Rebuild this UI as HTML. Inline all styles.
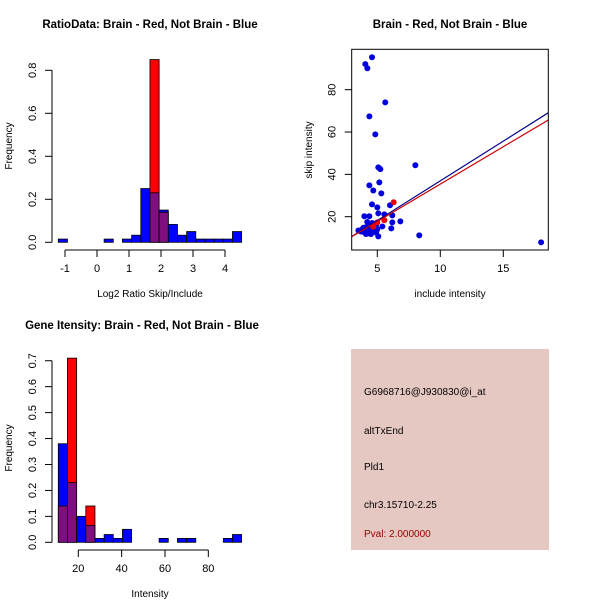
<!DOCTYPE html>
<html><head><meta charset="utf-8"><style>
body{margin:0;background:#fff}
svg{display:block;font-family:"Liberation Sans",sans-serif}
</style></head><body>
<svg id="c" width="600" height="600" xmlns="http://www.w3.org/2000/svg">
<rect x="0" y="0" width="600" height="600" fill="#fff"/>
</svg>
<script>
// Panel 1: ratio histogram
const ratioBinStart = -1.21, ratioBinWidth = 0.2865;
const ratioBlue = [0.015,0,0,0,0,0.015,0,0.015,0.033,0.25,0.23,0.15,0.083,0.033,0.05,0.015,0.015,0.015,0.015,0.05];
const ratioRed  = [0,0,0,0,0,0,0,0,0,0,0.85,0.14,0,0,0,0,0,0,0,0];
const ratioXTicks = [-1,0,1,2,3,4];
const ratioYTicks = [0,0.2,0.4,0.6,0.8];
// Panel 2: scatter
const scatterBlueX = [4.58,4.05,4.21,5.63,4.37,4.84,5.08,5.24,8.02,4.37,5.16,4.68,5.32,4.58,5.0,6.01,5.08,5.56,6.19,3.97,4.37,6.19,6.83,6.11,5.4,8.33,18.0,5.08,3.5,3.8,4.0,4.1,4.2,4.3,4.4,4.5,4.6,4.7,4.8,4.9,4.2,3.9,4.5,4.8,5.0,4.3,3.7,4.6,4.1,4.9];
const scatterBlueY = [95.3,92.1,90.1,74.0,67.4,58.9,43.3,42.5,44.3,34.8,36.2,32.4,31.0,25.8,24.4,25.4,21.6,21.1,20.6,20.2,20.2,17.3,17.8,14.5,15.4,11.2,7.9,10.7,13.5,14,12.5,15,13,16,12,14,17,13,15,12.5,17.5,14.8,11.8,13.5,14,14.5,13,12.8,11.8,16];
const scatterRedX = [6.3,5.56,5.0,4.68];
const scatterRedY = [26.8,18.3,17.3,15.3];
const fitBlue = [-0.55,3.75]; // intercept, slope
const fitRed = [0.1,3.53];
const scatterXTicks = [5,10,15];
const scatterYTicks = [20,40,60,80];
// Panel 3: intensity histogram
const intBinStart = 10.77, intBinWidth = 4.23;
const intBlue = [0.38,0.23,0.1,0.065,0.015,0.03,0.015,0.05,0,0,0,0.015,0,0.015,0.015,0,0,0,0.015,0.03];
const intRed  = [0.14,0.71,0,0.14,0,0,0,0,0,0,0,0,0,0,0,0,0,0,0,0];
const intXTicks = [20,40,60,80];
const intYTicks = [0,0.1,0.2,0.3,0.4,0.5,0.6,0.7];

const svg = document.getElementById('c');
const NS = 'http://www.w3.org/2000/svg';
function mk(tag, attrs, parent){const e=document.createElementNS(NS,tag);for(const k in attrs)e.setAttribute(k,attrs[k]);(parent||svg).appendChild(e);return e;}
function txt(s,x,y,size,opts){const t=mk('text',Object.assign({x:x,y:y,'font-size':size,'text-anchor':'middle',fill:'#000'},opts||{}));t.textContent=s;return t;}

function hist(g, start, w, blue, red, sx, sy){
  for(let i=0;i<blue.length;i++){
    const a=start+i*w, b=a+w, hb=blue[i], hr=red[i];
    if(hb<=0&&hr<=0) continue;
    const hi=Math.max(hb,hr), lo=Math.min(hb,hr);
    const col = hb>=hr ? '#0000ff' : '#ff0000';
    const r=mk('rect',{x:sx(a),y:sy(hi),width:sx(b)-sx(a),height:sy(0)-sy(hi),fill:col,stroke:'#000','stroke-width':0.8},g);
    
    
    if(lo>0){
      const p=mk('rect',{x:sx(a),y:sy(lo),width:sx(b)-sx(a),height:sy(0)-sy(lo),fill:'#7f0f7f',stroke:'#000','stroke-width':0.8},g);
      
      
    }
  }
}
function yaxis(g, x, ticks, sy, fmt){
  mk('line',{x1:x,x2:x,y1:sy(ticks[0]),y2:sy(ticks[ticks.length-1]),stroke:'#000'},g);
  ticks.forEach(v=>{const y=sy(v);mk('line',{x1:x-7,x2:x,y1:y,y2:y,stroke:'#000'},g);
    const t=txt(fmt(v),x-16,y,11,{transform:`rotate(-90 ${x-16} ${y})`});
    
    });
}
function xaxis(g, y, ticks, sx){
  mk('line',{x1:sx(ticks[0]),x2:sx(ticks[ticks.length-1]),y1:y,y2:y,stroke:'#000'},g);
  ticks.forEach(v=>{const x=sx(v);mk('line',{x1:x,x2:x,y1:y,y2:y+7,stroke:'#000'},g);
    const t=txt(String(v),x,y+22,11);
    
    });
}

// Panel 1
{
  const g=mk('g',{});
  
  
  const sx=v=>65+(v+1)*32, sy=v=>242.3-v*215;
  hist(g,ratioBinStart,ratioBinWidth,ratioBlue,ratioRed,sx,sy);
  yaxis(g,52,ratioYTicks,sy,v=>v.toFixed(1));
  xaxis(g,250,ratioXTicks,sx);
  const t=txt('RatioData: Brain - Red, Not Brain - Blue',150,28,11.5,{'font-weight':'bold'});
  
  const xl=txt('Log2 Ratio Skip/Include',150,297,10);
  
  const yl=txt('Frequency',12,146,10,{transform:'rotate(-90 12 146)'});
  
}
// Panel 2
{
  const g=mk('g',{});
  
  
  const L=351.7,R=548.3,T=49.3,B=250;
  const sx=v=>377.3+(v-5)*12.6, sy=v=>216.7-(v-20)*2.117;
  mk('clipPath',{id:'cp'},g);
  mk('rect',{x:L,y:T,width:R-L,height:B-T},g.lastChild);
  for(let i=0;i<scatterBlueX.length;i++){
    const c=mk('circle',{cx:sx(scatterBlueX[i]),cy:sy(scatterBlueY[i]),r:3,fill:'#0000dd'},g);
    
  }
  for(let i=0;i<scatterRedX.length;i++){
    const c=mk('circle',{cx:sx(scatterRedX[i]),cy:sy(scatterRedY[i]),r:3,fill:'#ee0000'},g);
    
  }
  const x0=2.9,x1=18.7;
  const lb=mk('line',{x1:sx(x0),y1:sy(fitBlue[0]+fitBlue[1]*x0),x2:sx(x1),y2:sy(fitBlue[0]+fitBlue[1]*x1),stroke:'#00008b','stroke-width':1.2,'clip-path':'url(#cp)'},g);
  
  const lr=mk('line',{x1:sx(x0),y1:sy(fitRed[0]+fitRed[1]*x0),x2:sx(x1),y2:sy(fitRed[0]+fitRed[1]*x1),stroke:'#cc0000','stroke-width':1.2,'clip-path':'url(#cp)'},g);
  
  mk('rect',{x:L,y:T,width:R-L,height:B-T,fill:'none',stroke:'#000'},g);
  scatterXTicks.forEach(v=>{const x=sx(v);mk('line',{x1:x,x2:x,y1:B,y2:B+7,stroke:'#000'},g);
    const t=txt(String(v),x,B+22,11);});
  scatterYTicks.forEach(v=>{const y=sy(v);mk('line',{x1:L-7,x2:L,y1:y,y2:y,stroke:'#000'},g);
    const t=txt(String(v),L-16,y,11,{transform:`rotate(-90 ${L-16} ${y})`});});
  const t=txt('Brain - Red, Not Brain - Blue',450,28,11.5,{'font-weight':'bold'});
  
  const xl=txt('include intensity',450,297,10);
  
  const yl=txt('skip intensity',312,150,10,{transform:'rotate(-90 312 150)'});
  
}
// Panel 3
{
  const g=mk('g',{});
  
  
  const sx=v=>78.3+(v-20)*2.167, sy=v=>542.3-v*259.4;
  hist(g,intBinStart,intBinWidth,intBlue,intRed,sx,sy);
  yaxis(g,52,intYTicks,sy,v=>v.toFixed(1));
  xaxis(g,550,intXTicks,sx);
  const t=txt('Gene Itensity: Brain - Red, Not Brain - Blue',142,329,11.5,{'font-weight':'bold'});
  
  const xl=txt('Intensity',150,597,10);
  
  const yl=txt('Frequency',12,448,10,{transform:'rotate(-90 12 448)'});
  
}
// Panel 4
{
  const g=mk('g',{});
  
  
  mk('rect',{x:351,y:349,width:198,height:201,fill:'#e6c8c2'},g);
  const lines=[['G6968716@J930830@i_at',395,'#000'],['altTxEnd',434,'#000'],['Pld1',470,'#000'],['chr3.15710-2.25',508,'#000'],['Pval: 2.000000',537,'#990000']];
  const names=['probe-id','event-type','gene-name','location','pval'];
  lines.forEach((l,i)=>{const t=txt(l[0],364,l[1],10,{'text-anchor':'start',fill:l[2]});
    
    });
}
</script>
</body></html>
